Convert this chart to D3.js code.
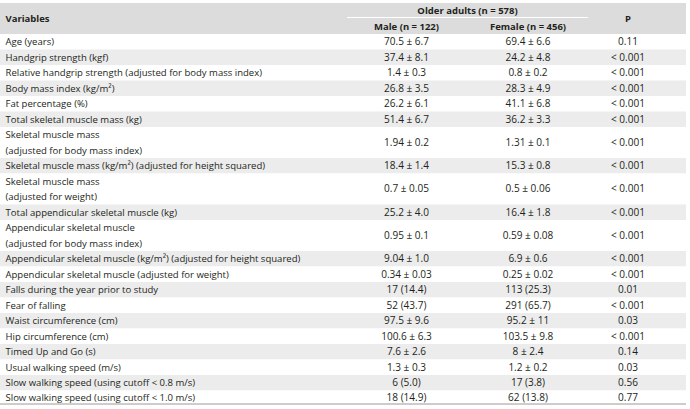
<!DOCTYPE html>
<html><head><meta charset="utf-8">
<script src="https://cdn.jsdelivr.net/npm/d3@7"></script>
<style>
body{margin:0;background:#fff;}
svg text{font-family:"Open Sans","Noto Sans",sans-serif;fill:#231f20;}
</style></head>
<body><svg id="c" width="690" height="409"></svg>
<script>
const variables = [
  ["Age (years)"],
  ["Handgrip strength (kgf)"],
  ["Relative handgrip strength (adjusted for body mass index)"],
  ["Body mass index (kg/m²)"],
  ["Fat percentage (%)"],
  ["Total skeletal muscle mass (kg)"],
  ["Skeletal muscle mass", "(adjusted for body mass index)"],
  ["Skeletal muscle mass (kg/m²) (adjusted for height squared)"],
  ["Skeletal muscle mass", "(adjusted for weight)"],
  ["Total appendicular skeletal muscle (kg)"],
  ["Appendicular skeletal muscle", "(adjusted for body mass index)"],
  ["Appendicular skeletal muscle (kg/m²) (adjusted for height squared)"],
  ["Appendicular skeletal muscle (adjusted for weight)"],
  ["Falls during the year prior to study"],
  ["Fear of falling"],
  ["Waist circumference (cm)"],
  ["Hip circumference (cm)"],
  ["Timed Up and Go (s)"],
  ["Usual walking speed (m/s)"],
  ["Slow walking speed (using cutoff < 0.8 m/s)"],
  ["Slow walking speed (using cutoff < 1.0 m/s)"]
];
const maleValues = ["70.5 ± 6.7","37.4 ± 8.1","1.4 ± 0.3","26.8 ± 3.5","26.2 ± 6.1","51.4 ± 6.7","1.94 ± 0.2","18.4 ± 1.4","0.7 ± 0.05","25.2 ± 4.0","0.95 ± 0.1","9.04 ± 1.0","0.34 ± 0.03","17 (14.4)","52 (43.7)","97.5 ± 9.6","100.6 ± 6.3","7.6 ± 2.6","1.3 ± 0.3","6 (5.0)","18 (14.9)"];
const femaleValues = ["69.4 ± 6.6","24.2 ± 4.8","0.8 ± 0.2","28.3 ± 4.9","41.1 ± 6.8","36.2 ± 3.3","1.31 ± 0.1","15.3 ± 0.8","0.5 ± 0.06","16.4 ± 1.8","0.59 ± 0.08","6.9 ± 0.6","0.25 ± 0.02","113 (25.3)","291 (65.7)","95.2 ± 11","103.5 ± 9.8","8 ± 2.4","1.2 ± 0.2","17 (3.8)","62 (13.8)"];
const pValues = ["0.11","< 0.001","< 0.001","< 0.001","< 0.001","< 0.001","< 0.001","< 0.001","< 0.001","< 0.001","< 0.001","< 0.001","< 0.001","0.01","< 0.001","0.03","< 0.001","0.14","0.03","0.56","0.77"];
const headerGroup = "Older adults (n = 578)";
const headerCols = ["Male (n = 122)", "Female (n = 456)"];
const headerVar = "Variables";
const headerP = "P";

const svg = d3.select("#c");
const W = 686, tableTop = 3, headH = 31, unit = 15.5;

// fit font sizes to the reference's measured text widths
function measure(str, size, weight) {
  const t = svg.append("text").style("font-size", size + "px").style("font-weight", weight || "normal").text(str);
  const w = t.node().getComputedTextLength(); t.remove(); return w;
}
const fsLabel = Math.min(10, 10 * 257 / measure("Relative handgrip strength (adjusted for body mass index)", 10));
const fsNum = Math.min(10.5, 10 * 45 / measure("26.8 ± 3.5", 10));
const fsHead = Math.min(10.5, 10 * 65 / measure("Male (n = 122)", 10, "bold"));

let acc = 0;
const rows = variables.map((v, i) => {
  const r = {lines: v, male: maleValues[i], female: femaleValues[i], p: pValues[i], start: acc, size: v.length};
  acc += v.length; return r;
});
const y = d3.scaleLinear().domain([0, acc]).range([tableTop + headH, tableTop + headH + acc * unit]);
const xCol = d3.scaleOrdinal().domain(["var","male","female","p"]).range([5.5, 406.5, 528, 628]);

// header
svg.append("rect").attr("x", 0).attr("y", tableTop).attr("width", W).attr("height", headH).attr("fill", "#dcdcdc");
svg.append("line").attr("x1", 347).attr("x2", 588).attr("y1", 17.5).attr("y2", 17.5)
  .attr("stroke", "#fff").attr("stroke-width", 1);
const hb = svg.append("g").style("font-weight", "bold").style("font-size", fsHead + "px");
hb.append("text").attr("x", xCol("var")).attr("y", 22).text(headerVar);
hb.append("text").attr("x", (347 + 588) / 2).attr("y", 14).attr("text-anchor", "middle").text(headerGroup);
hb.append("text").attr("x", xCol("male")).attr("y", 30).attr("text-anchor", "middle").text(headerCols[0]);
hb.append("text").attr("x", xCol("female")).attr("y", 30).attr("text-anchor", "middle").text(headerCols[1]);
hb.append("text").attr("x", xCol("p")).attr("y", 21.5).attr("text-anchor", "middle").text(headerP);

// rows
const g = svg.append("g");
const rg = g.selectAll("g.row").data(rows).join("g").attr("class", "row");
rg.append("rect").attr("x", 0).attr("width", W)
  .attr("y", d => y(d.start)).attr("height", d => y(d.start + d.size) - y(d.start))
  .attr("fill", (d, i) => i % 2 ? "#ececec" : "#fff");
rg.each(function(d, i) {
  const s = d3.select(this);
  const off = i === rows.length - 1 ? 10.3 : 11;
  d.lines.forEach((t, k) => {
    s.append("text").attr("x", xCol("var")).attr("y", y(d.start + k) + off).style("font-size", fsLabel + "px").text(t);
  });
  const cy = d.size > 1 ? (y(d.start) + y(d.start + d.size)) / 2 + 3.3 : y(d.start) + off;
  [["male", d.male], ["female", d.female], ["p", d.p]].forEach(([c, v]) => {
    s.append("text").attr("x", xCol(c)).attr("y", cy).attr("text-anchor", "middle").style("font-size", fsNum + "px").text(v);
  });
});
svg.append("line").attr("x1", 0).attr("x2", W).attr("y1", 404).attr("y2", 404).attr("stroke", "#9a9a9a").attr("stroke-width", 1);
</script></body></html>
